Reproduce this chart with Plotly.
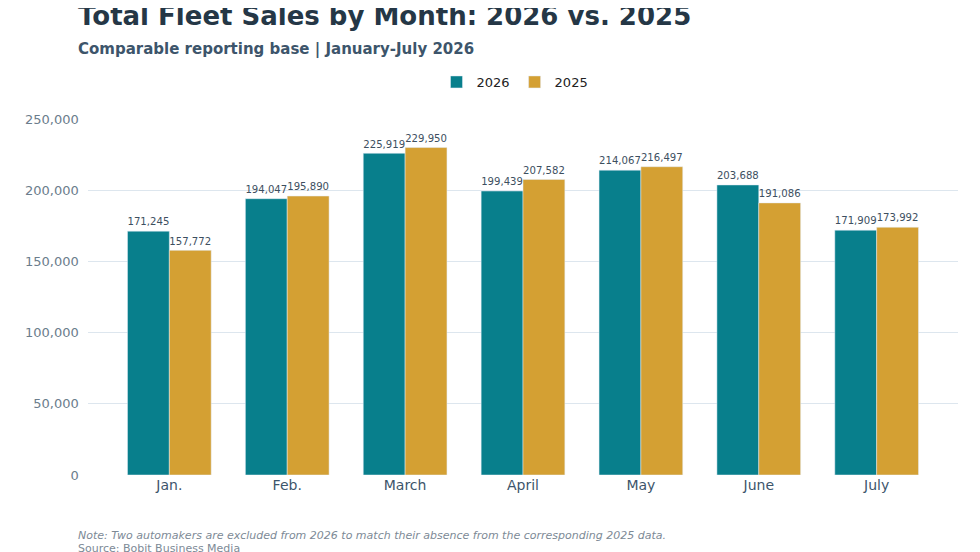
import plotly.graph_objects as go

months = ["Jan.", "Feb.", "March", "April", "May", "June", "July"]
sales_2026 = [171245, 194047, 225919, 199439, 214067, 203688, 171909]
sales_2025 = [157772, 195890, 229950, 207582, 216497, 191086, 173992]

OFF = 8  # page body margin
W, H = 980 - OFF, 552 - OFF
L, R, T, B = 88 - OFF, 980 - 958, 119 - OFF, 552 - 475
PW, PH = W - L - R, H - T - B

def px(x):
    return (x - OFF - L) / PW

def py(y):
    return (H - (y - OFF) - B) / PH

fig = go.Figure()
for name, vals, col in [("2026", sales_2026, "#087f8c"), ("2025", sales_2025, "#d4a033")]:
    fig.add_trace(go.Bar(x=months, y=vals, name=name, marker_color=col,
                         text=[f"{v:,}" for v in vals], textposition="outside",
                         textfont=dict(size=11, color="#3d4f5f"), cliponaxis=False))

fig.update_layout(
    width=W, height=H, barmode="group", bargap=0.29, bargroupgap=0,
    plot_bgcolor="white", paper_bgcolor="white",
    font=dict(family="DejaVu Sans, sans-serif", color="#3d556b"),
    margin=dict(l=L, r=R, t=T, b=B, autoexpand=False),
    legend=dict(orientation="h", x=px(515), xanchor="center", y=py(82), yanchor="middle",
                font=dict(size=13, color="#222")),
    xaxis=dict(range=[-0.69, 6.69], tickfont=dict(size=14, color="#3d556b"), showline=False),
    yaxis=dict(range=[0, 250000], tickformat=",", gridcolor="#dde6ee",
               tickfont=dict(size=13, color="#6b7d8c"), zeroline=False, dtick=50000,
               ticksuffix="  "),
    annotations=[
        dict(text="<b>Total Fleet Sales by Month: 2026 vs. 2025</b>", x=px(76), y=py(16),
             font=dict(size=26, color="#253746")),
        dict(text="<b>Comparable reporting base | January-July 2026</b>", x=px(76), y=py(49),
             font=dict(size=15, color="#3d556b")),
        dict(text="<i>Note: Two automakers are excluded from 2026 to match their absence from the corresponding 2025 data.</i>",
             x=px(76), y=py(535), font=dict(size=11, color="#7d8a96")),
        dict(text="Source: Bobit Business Media", x=px(76), y=py(548),
             font=dict(size=11, color="#7d8a96")),
    ],
)
fig.update_annotations(xref="paper", yref="paper", xanchor="left", yanchor="middle", showarrow=False)
fig.write_html("out.html")
